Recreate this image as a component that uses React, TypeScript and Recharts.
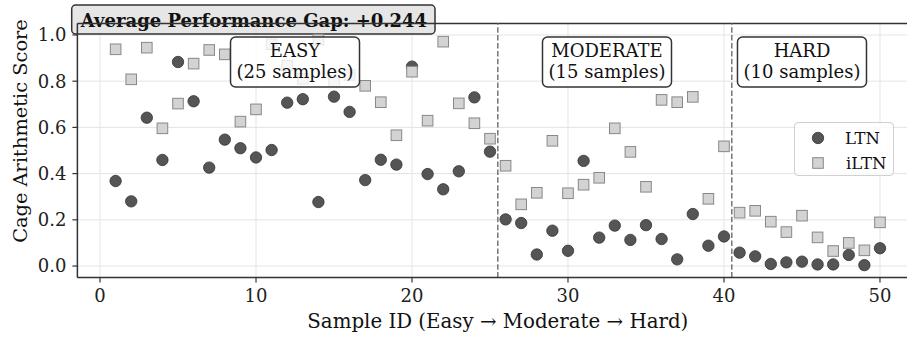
import {
  ScatterChart,
  Scatter,
  XAxis,
  YAxis,
  CartesianGrid,
  ReferenceLine,
  ReferenceDot,
  Legend,
  Label,
  Customized,
} from 'recharts';

const sampleIds = [
  1, 2, 3, 4, 5, 6, 7, 8, 9, 10, 11, 12, 13, 14, 15, 16, 17, 18, 19, 20, 21, 22, 23, 24, 25,
  26, 27, 28, 29, 30, 31, 32, 33, 34, 35, 36, 37, 38, 39, 40,
  41, 42, 43, 44, 45, 46, 47, 48, 49, 50,
];

const ltnScores = [
  0.368, 0.28, 0.642, 0.459, 0.883, 0.713, 0.426, 0.547, 0.51, 0.47,
  0.502, 0.707, 0.722, 0.277, 0.733, 0.667, 0.372, 0.46, 0.439, 0.863,
  0.398, 0.332, 0.41, 0.73, 0.495,
  0.202, 0.186, 0.05, 0.153, 0.066, 0.455, 0.123, 0.175, 0.113, 0.177,
  0.117, 0.029, 0.225, 0.088, 0.128,
  0.058, 0.042, 0.009, 0.016, 0.019, 0.007, 0.007, 0.048, 0.004, 0.077,
];

const iltnScores = [
  0.938, 0.808, 0.945, 0.596, 0.703, 0.876, 0.935, 0.916, 0.625, 0.678,
  0.96, 0.867, 0.81, 0.98, 0.8, 0.827, 0.78, 0.709, 0.566, 0.841,
  0.629, 0.971, 0.704, 0.618, 0.551,
  0.434, 0.267, 0.317, 0.542, 0.315, 0.352, 0.382, 0.596, 0.494, 0.343,
  0.719, 0.709, 0.732, 0.291, 0.518,
  0.231, 0.239, 0.192, 0.147, 0.218, 0.124, 0.065, 0.1, 0.068, 0.189,
];

const xTicks = [0, 10, 20, 30, 40, 50];
const yTicks = [0, 0.2, 0.4, 0.6, 0.8, 1.0];
const splitPoints = [25.5, 40.5];

const regionNames = ['EASY', 'MODERATE', 'HARD'];
const regionCounts = [25, 15, 10];
const regionCenters = [12.5, 32.5, 45];

const avgGap = 0.244;

const FONT = 'DejaVu Serif';

const ltnData = sampleIds.map((id, i) => ({ x: id, y: ltnScores[i] }));
const iltnData = sampleIds.map((id, i) => ({ x: id, y: iltnScores[i] }));

function CircleMark(props: any) {
  return <circle cx={props.cx} cy={props.cy} r={5.7} fill="#555" stroke="#333" strokeWidth={0.8} />;
}

function SquareMark(props: any) {
  return (
    <rect
      x={props.cx - 5.3}
      y={props.cy - 5.3}
      width={10.6}
      height={10.6}
      fill="#d3d3d3"
      stroke="#888"
      strokeWidth={1}
    />
  );
}

function regionBox(name: string, count: number) {
  return (p: any) => (
    <g>
      <rect
        x={p.cx - 64.5}
        y={p.cy - 25}
        width={129}
        height={50}
        rx={5}
        fill="#fff"
        fillOpacity={0.8}
        stroke="#333"
        strokeWidth={1.5}
      />
      <text x={p.cx} y={p.cy - 4.7} textAnchor="middle" fontSize={18} fontFamily={FONT} fill="#111">
        {name}
      </text>
      <text x={p.cx} y={p.cy + 16.3} textAnchor="middle" fontSize={18} fontFamily={FONT} fill="#111">
        ({count} samples)
      </text>
    </g>
  );
}

function TitleBox() {
  return (
    <g>
      <rect x={71.7} y={5} width={363.3} height={29} rx={4} fill="#d9d9d9" fillOpacity={0.65} stroke="#333" strokeWidth={1.5} />
      <text x={254} y={26.5} textAnchor="middle" fontSize={18} fontWeight="bold" fontFamily={FONT} fill="#111">
        Average Performance Gap: +{avgGap.toFixed(3)}
      </text>
    </g>
  );
}

function LegendBox() {
  return (
    <div
      style={{
        width: 100,
        height: 54,
        border: '1px solid #d0d0d0',
        borderRadius: 4,
        background: 'rgba(255,255,255,0.8)',
        boxSizing: 'border-box',
      }}
    >
      <svg width={100} height={54}>
        <circle cx={23} cy={15} r={5.7} fill="#555" stroke="#333" strokeWidth={0.8} />
        <text x={50} y={21} fontSize={16.5} fontFamily={FONT} fill="#111">LTN</text>
        <rect x={17.7} y={34.7} width={10.6} height={10.6} fill="#d3d3d3" stroke="#888" strokeWidth={1} />
        <text x={51} y={46} fontSize={16.5} fontFamily={FONT} fill="#111">iLTN</text>
      </svg>
    </div>
  );
}

const tickStyle = { fill: '#222', fontSize: 18, fontFamily: FONT };

export default function App() {
  return (
    <div
      style={{
        position: 'absolute',
        left: 0,
        top: 0,
        width: 907,
        height: 337,
        overflow: 'hidden',
        background: '#fff',
      }}
    >
      <ScatterChart width={940} height={337} margin={{ top: 23.4, right: 21.8, bottom: 29.4, left: 17.4 }}>
        <CartesianGrid stroke="#e4e4e4" strokeWidth={1} />
        <XAxis
          type="number"
          dataKey="x"
          domain={[-1.45, 52.45]}
          ticks={xTicks}
          allowDataOverflow
          height={30}
          tick={tickStyle}
          tickSize={5}
          tickMargin={7}
          axisLine={{ stroke: '#333', strokeWidth: 1.5 }}
          tickLine={{ stroke: '#333', strokeWidth: 1.2 }}
        >
          <Label
            content={(p: any) => (
              <text
                x={p.viewBox.x + p.viewBox.width / 2}
                y={p.viewBox.y + 50.5}
                textAnchor="middle"
                fontSize={19.8}
                fontFamily={FONT}
                fill="#111"
              >
                Sample ID (Easy → Moderate → Hard)
              </text>
            )}
          />
        </XAxis>
        <YAxis
          type="number"
          dataKey="y"
          domain={[-0.05, 1.05]}
          ticks={yTicks}
          allowDataOverflow
          width={60}
          tick={tickStyle}
          tickSize={5}
          tickMargin={6}
          tickFormatter={(v: number) => v.toFixed(1)}
          axisLine={{ stroke: '#333', strokeWidth: 1.5 }}
          tickLine={{ stroke: '#333', strokeWidth: 1.2 }}
        >
          <Label
            content={(p: any) => {
              const cx = p.viewBox.x + 9.6;
              const cy = 131;
              return (
                <text
                  x={cx}
                  y={cy}
                  transform={`rotate(-90, ${cx}, ${cy})`}
                  textAnchor="middle"
                  fontSize={19.4}
                  fontFamily={FONT}
                  fill="#111"
                >
                  Cage Arithmetic Score
                </text>
              );
            }}
          />
        </YAxis>
        <ReferenceLine y={1.05} stroke="#333" strokeWidth={1.5} />
        {splitPoints.map((s) => (
          <ReferenceLine key={s} x={s} stroke="#777" strokeWidth={1.5} strokeDasharray="5.5 2.4" />
        ))}
        <Scatter name="LTN" data={ltnData} shape={CircleMark} isAnimationActive={false} />
        <Scatter name="iLTN" data={iltnData} shape={SquareMark} isAnimationActive={false} />
        {regionNames.map((name, i) => (
          <ReferenceDot
            key={name}
            x={regionCenters[i]}
            y={0.883}
            r={0}
            shape={regionBox(name, regionCounts[i])}
          />
        ))}
        <Customized component={TitleBox} />
        <Legend
          layout="horizontal"
          verticalAlign="middle"
          align="center"
          wrapperStyle={{ left: 794, top: 122, width: 100, height: 54 }}
          content={() => <LegendBox />}
        />
      </ScatterChart>
    </div>
  );
}
